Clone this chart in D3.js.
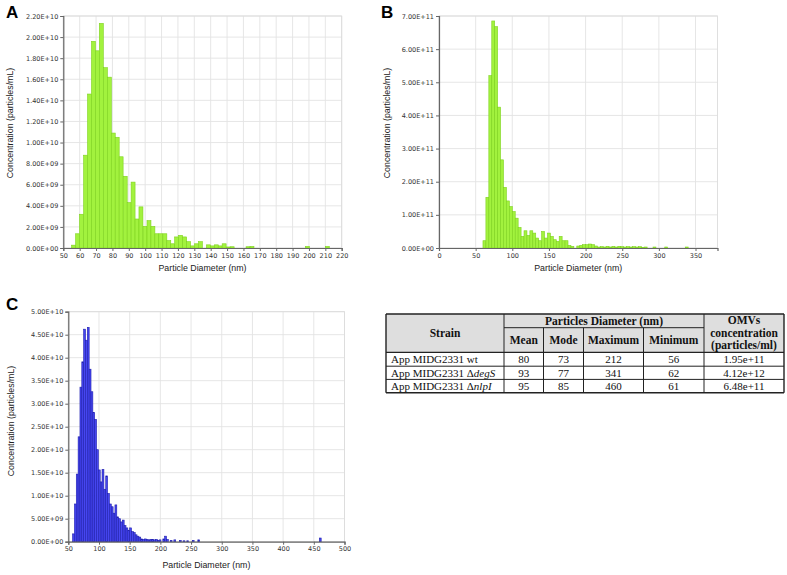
<!DOCTYPE html>
<html><head><meta charset="utf-8">
<script src="https://cdn.jsdelivr.net/npm/d3@7"></script>
<style>body{margin:0;background:#fff}</style>
</head><body>
<svg id="chart" width="787" height="575"></svg>
<script>
// ---------- Panel A (wt), bin width ~2.42 nm, values in 1e9 particles/mL
const binWidthA = 2.42;
const diamA = [55.1,57.5,59.9,62.4,64.8,67.2,69.6,72.0,74.5,76.9,79.3,81.7,84.1,86.6,89.0,91.4,93.8,96.2,98.7,101.1,103.5,105.9,108.3,110.8,113.2,115.6,118.0,120.4,122.9,125.3,127.7,130.1,132.5,137.4,139.8,142.2,144.6,147.0,149.5,151.9,161.6,164.0,197.9,210.0];
const concA = [0.27,1.35,3.2,8.8,14.6,19.6,18.7,21.3,17.1,16.2,10.9,10.5,8.65,6.8,4.3,6.25,2.75,3.9,2.05,2.6,2.05,1.35,1.35,1.35,0.7,0.4,1.05,1.2,1.05,0.6,0.2,0.4,0.6,0.3,0.2,0.3,0.2,0.4,0.1,0.12,0.12,0.15,0.15,0.15];
const unitA = 1e9;
const xTicksA = [50,60,70,80,90,100,110,120,130,140,150,160,170,180,190,200,210,220];
const yTicksA = [0,2e9,4e9,6e9,8e9,1e10,1.2e10,1.4e10,1.6e10,1.8e10,2e10,2.2e10];

// ---------- Panel B (ΔdegS), bin width 4 nm, values in 1e11
const binWidthB = 4;
const diamB = [60,64,68,72,76,80,84,88,92,96,100,104,108,112,116,120,124,128,132,136,140,144,148,152,156,160,164,168,172,176,180,188,192,196,200,204,208,212,216,220,224,228,232,236,240,244,248,252,256,260,264,268,272,276,280,292,308,336];
const concB = [0.22,1.53,5.2,6.85,6.68,4.25,2.66,1.83,1.42,1.25,1.1,0.9,0.62,0.35,0.52,0.38,0.52,0.45,0.3,0.22,0.5,0.3,0.45,0.35,0.25,0.2,0.35,0.22,0.22,0.08,0.05,0.06,0.08,0.1,0.1,0.12,0.1,0.06,0.03,0.04,0.03,0.05,0.03,0.05,0.03,0.05,0.04,0.03,0.04,0.03,0.04,0.03,0.04,0.02,0.03,0.03,0.03,0.03];
const unitB = 1e11;
const xTicksB = [0,50,100,150,200,250,300,350];
const yTicksB = [0,1e11,2e11,3e11,4e11,5e11,6e11,7e11];

// ---------- Panel C (ΔnlpI), bin width 3 nm, values in 1e10
const binWidthC = 3;
const diamC = [57,60,63,66,69,72,75,78,81,84,87,90,93,96,99,102,105,108,111,114,117,120,123,126,129,132,135,138,141,144,147,150,153,156,159,162,165,168,171,174,177,180,183,186,189,192,195,198,204,207,210,216,222,231,237,243,252,261,459];
const concC = [0.17,0.82,1.47,2.28,3.36,3.91,4.62,4.38,4.66,3.75,3.26,2.81,2.66,2.0,1.56,1.3,1.57,1.14,1.43,1.05,0.82,0.76,0.62,0.8,0.54,0.5,0.43,0.47,0.35,0.3,0.25,0.3,0.22,0.2,0.15,0.12,0.1,0.06,0.05,0.06,0.05,0.04,0.05,0.05,0.04,0.05,0.03,0.04,0.06,0.12,0.05,0.03,0.04,0.03,0.02,0.02,0.03,0.04,0.08];
const unitC = 1e10;
const xTicksC = [50,100,150,200,250,300,350,400,450,500];
const yTicksC = [0,5e9,1e10,1.5e10,2e10,2.5e10,3e10,3.5e10,4e10,4.5e10,5e10];

// ---------- Table
const strainBase = ["App MIDG2331 wt","App MIDG2331 ","App MIDG2331 "];
const strainMut = ["","degS","nlpI"];
const meanD = [80,93,95];
const modeD = [73,77,85];
const maxD = [212,341,460];
const minD = [56,62,61];
const omvConc = ["1.95e+11","4.12e+12","6.48e+11"];

const svg = d3.select("#chart");

function fmtE(v){
  const s = v.toExponential(2).split("e");
  const e = +s[1];
  return s[0] + "E" + (e < 0 ? "-" : "+") + String(Math.abs(e)).padStart(2,"0");
}

function panel(cfg){
  const x = d3.scaleLinear().domain(cfg.xdom).range([cfg.x0, cfg.x1]);
  const y = d3.scaleLinear().domain(cfg.ydom).range([cfg.y1, cfg.y0]);
  const g = svg.append("g");
  g.append("g").selectAll("line").data(cfg.xticks).join("line")
    .attr("x1", d=>x(d)).attr("x2", d=>x(d)).attr("y1", cfg.y0).attr("y2", cfg.y1)
    .attr("stroke", "#e3e3e3").attr("stroke-width", 0.9);
  g.append("g").selectAll("line").data(cfg.yticks).join("line")
    .attr("x1", cfg.x0).attr("x2", cfg.x1).attr("y1", d=>y(d)).attr("y2", d=>y(d))
    .attr("stroke", "#e3e3e3").attr("stroke-width", 0.9);
  g.append("rect").attr("x", cfg.x0).attr("y", cfg.y0)
    .attr("width", cfg.x1-cfg.x0).attr("height", cfg.y1-cfg.y0)
    .attr("fill","none").attr("stroke","#dcdcdc").attr("stroke-width",0.9);
  g.append("g").selectAll("rect").data(cfg.diam.map((d,i)=>({d, v: cfg.vals[i]*cfg.unit}))).join("rect")
    .attr("x", d=>x(d.d)).attr("width", d=>Math.max(0.8, x(d.d+cfg.bw)-x(d.d)))
    .attr("y", d=>y(d.v)).attr("height", d=>Math.max(0.8, y(0)-y(d.v)))
    .attr("fill", cfg.fill).attr("stroke", cfg.stroke).attr("stroke-width", 0.6);
  const ya = g.append("g").attr("transform", `translate(${cfg.x0},0)`)
    .call(d3.axisLeft(y).tickValues(cfg.yticks).tickFormat(fmtE).tickSize(3).tickPadding(2));
  const xa = g.append("g").attr("transform", `translate(0,${cfg.y1})`)
    .call(d3.axisBottom(x).tickValues(cfg.xticks).tickFormat(d3.format("d")).tickSize(3).tickPadding(2));
  [ya, xa].forEach(a=>{
    a.select(".domain").attr("stroke","#666").attr("stroke-width",1.2);
    a.selectAll(".tick line").attr("stroke","#666");
    a.selectAll("text").attr("font-family","DejaVu Sans, sans-serif").attr("font-size","6.5px").attr("fill","#333");
  });
  g.append("text").attr("transform", `translate(${cfg.ytx},${cfg.yty}) rotate(-90)`)
    .attr("text-anchor","middle").attr("font-family","Liberation Sans, Arial, sans-serif")
    .attr("font-size","8.8px").attr("fill","#222").text("Concentration (particles/mL)");
  g.append("text").attr("x", (cfg.x0+cfg.x1)/2).attr("y", cfg.xty)
    .attr("text-anchor","middle").attr("font-family","Liberation Sans, Arial, sans-serif")
    .attr("font-size","8.8px").attr("fill","#222").text("Particle Diameter (nm)");
  g.append("text").attr("x", cfg.lx).attr("y", cfg.ly)
    .attr("font-family","Liberation Sans, Arial, sans-serif").attr("font-weight","bold")
    .attr("font-size","17px").attr("fill","#000").text(cfg.label);
}

const green = "#a2f23e", greenEdge = "#7ed21e";
panel({label:"A", lx:6, ly:18, x0:63.3, x1:341.7, y0:16, y1:248, xdom:[50,220], ydom:[0,2.2e10],
  xticks:xTicksA, yticks:yTicksA, diam:diamA, vals:concA, unit:unitA, bw:binWidthA,
  fill:green, stroke:greenEdge, ytx:13, yty:123, xty:271});
panel({label:"B", lx:381, ly:18, x0:439, x1:717.5, y0:16, y1:248, xdom:[0,380], ydom:[0,7e11],
  xticks:xTicksB, yticks:yTicksB, diam:diamB, vals:concB, unit:unitB, bw:binWidthB,
  fill:green, stroke:greenEdge, ytx:390, yty:123, xty:271});
panel({label:"C", lx:6, ly:310, x0:68.3, x1:344.5, y0:311.7, y1:541.7, xdom:[50,500], ydom:[0,5e10],
  xticks:xTicksC, yticks:yTicksC, diam:diamC, vals:concC, unit:unitC, bw:binWidthC,
  fill:"#4646f0", stroke:"#1e1eae", ytx:14, yty:421, xty:568});

// ---------- Table drawing
const tg = svg.append("g");
const cx = [386, 504, 543.5, 583.5, 643.5, 704, 784];
const ry = [314, 327.7, 352.3, 366.2, 379.4, 392.7];
const serif = "Liberation Serif, 'Times New Roman', serif";
tg.append("rect").attr("x",cx[0]).attr("y",ry[0]).attr("width",cx[6]-cx[0]).attr("height",ry[2]-ry[0])
  .attr("fill","#dedede");
function hl(x1,x2,yy,w){ tg.append("line").attr("x1",x1).attr("x2",x2).attr("y1",yy).attr("y2",yy).attr("stroke","#222").attr("stroke-width",w||1); }
function vl(xx,y1,y2,w){ tg.append("line").attr("x1",xx).attr("x2",xx).attr("y1",y1).attr("y2",y2).attr("stroke","#222").attr("stroke-width",w||1); }
hl(cx[0],cx[6],ry[0],1.4);
hl(cx[1],cx[5],ry[1]);
hl(cx[0],cx[6],ry[2],1.2);
hl(cx[0],cx[6],ry[3]);
hl(cx[0],cx[6],ry[4]);
hl(cx[0],cx[6],ry[5],1.4);
vl(cx[0],ry[0],ry[5],1.4);
vl(cx[1],ry[0],ry[5]);
vl(cx[2],ry[1],ry[5]);
vl(cx[3],ry[1],ry[5]);
vl(cx[4],ry[1],ry[5]);
vl(cx[5],ry[0],ry[5]);
vl(cx[6],ry[0],ry[5],1.4);

function ht(txt,xx,yy){
  tg.append("text").attr("x",xx).attr("y",yy).attr("text-anchor","middle")
    .attr("font-family",serif).attr("font-weight","bold").attr("font-size","11.5px").attr("fill","#111").text(txt);
}
ht("Strain",(cx[0]+cx[1])/2,337);
ht("Particles Diameter (nm)",(cx[1]+cx[5])/2,324.8);
ht("Mean",(cx[1]+cx[2])/2,344.3);
ht("Mode",(cx[2]+cx[3])/2,344.3);
ht("Maximum",(cx[3]+cx[4])/2,344.3);
ht("Minimum",(cx[4]+cx[5])/2,344.3);
ht("OMVs",(cx[5]+cx[6])/2,324);
ht("concentration",(cx[5]+cx[6])/2,336.5);
ht("(particles/ml)",(cx[5]+cx[6])/2,349);

const rowBase = [363.2, 376.7, 389.8];
strainBase.forEach((s,i)=>{
  const t = tg.append("text").attr("x",391).attr("y",rowBase[i])
    .attr("font-family",serif).attr("font-size","11px").attr("fill","#111");
  t.append("tspan").text(s);
  if (strainMut[i]) {
    t.append("tspan").text("\u0394");
    t.append("tspan").attr("font-style","italic").text(strainMut[i]);
  }
  const cols = [meanD[i], modeD[i], maxD[i], minD[i], omvConc[i]];
  cols.forEach((v,j)=>{
    tg.append("text").attr("x",(cx[j+1]+cx[j+2])/2).attr("y",rowBase[i]).attr("text-anchor","middle")
      .attr("font-family",serif).attr("font-size","11px").attr("fill","#111").text(v);
  });
});
</script>
</body></html>
